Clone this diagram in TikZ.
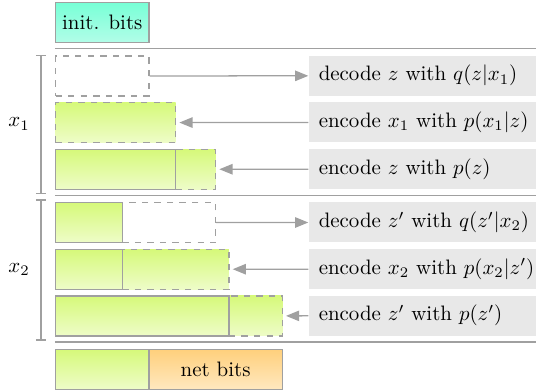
\documentclass[tikz,border=0pt]{standalone}
\usetikzlibrary{arrows.meta}
\definecolor{edgegray}{HTML}{A0A0A0}
\definecolor{labelgray}{HTML}{E8E8E8}
\definecolor{greentop}{HTML}{D6F97A}
\definecolor{greenbot}{HTML}{EEFCC8}
\definecolor{tealtop}{HTML}{78FFD6}
\definecolor{tealbot}{HTML}{B2FDE8}
\definecolor{orangetop}{HTML}{FFD07C}
\definecolor{orangebot}{HTML}{FFE8BF}
\tikzset{
  bits/.style={draw=edgegray, line width=0.6pt, rectangle, anchor=north west,
    inner sep=0pt, minimum height={3*2.24mm}, minimum width={#1*2.24mm}},
  green/.style={bits=#1, top color=greentop, bottom color=greenbot},
  greendash/.style={green=#1, dashed},
  empty/.style={bits=#1, dashed},
  initbox/.style={bits=#1, top color=tealtop, bottom color=tealbot},
  netbox/.style={bits=#1, top color=orangetop, bottom color=orangebot},
  stepname/.style={fill=labelgray, rectangle, anchor=north west, inner xsep=4.8pt,
    inner ysep=0pt, minimum height={3*2.24mm}, text width={20*2.24mm}, align=left},
  sep/.style={draw=edgegray, line width=0.6pt},
  flow/.style={->, draw=edgegray, line width=0.6pt},
}
\begin{document}
\begin{tikzpicture}[x=2.24mm, y=-2.24mm, >={Triangle[length=6.3pt,width=5pt]}]
  \useasboundingbox (-4.125,0) rectangle (36.08,29.4);
  % bits
  \node [initbox=7] (init) at (0,0.15) {init. bits};
  \node [empty=7] (d1) at (0,4.15) {};
  \node [greendash=9] (e1) at (0,7.65) {};
  \node [greendash=3] (e2) at (9,11.15) {};
  \node [green=9] (s2) at (0,11.15) {};
  \node [empty=7] (d3) at (5,15.15) {};
  \node [green=5] (s3) at (0,15.15) {};
  \node [greendash=8] (e4) at (5,18.65) {};
  \node [green=5] (s4) at (0,18.65) {};
  \node [greendash=4] (e5) at (13,22.15) {};
  \node [green=13] (s5) at (0,22.15) {};
  \node [green=7] (s6) at (0,26.15) {};
  \node [netbox=10] (net) at (7,26.15) {net bits};
  % steps
  \node [stepname] (t1) at (19,4.15) {decode $z$ with $q(z|x_1)$};
  \node [stepname] (t2) at (19,7.65) {encode $x_1$ with $p(x_1|z)$};
  \node [stepname] (t3) at (19,11.15) {encode $z$ with $p(z)$};
  \node [stepname] (t4) at (19,15.15) {decode $z'$ with $q(z'|x_2)$};
  \node [stepname] (t5) at (19,18.65) {encode $x_2$ with $p(x_2|z')$};
  \node [stepname] (t6) at (19,22.15) {encode $z'$ with $p(z')$};
  \draw [flow] (d1) -- (t1);
  \draw [flow, shorten >=1.5pt] (t2) -- (e1);
  \draw [flow, shorten >=1.5pt] (t3) -- (e2);
  \draw [flow] (d3) -- (t4);
  \draw [flow, shorten >=1.5pt] (t5) -- (e4);
  \draw [flow, shorten >=1.5pt] (t6) -- (e5);
  % separators
  \draw [sep] (0,3.65) -- (36.08,3.65);
  \draw [sep] (0,14.65) -- (36.08,14.65);
  \draw [sep] (0,25.65) -- (36.08,25.65);
  % samples
  \draw [sep] (-1.43,4.15) -- (-0.68,4.15) (-1.05,4.15) -- (-1.05,14.5)
    (-1.43,14.5) -- (-0.68,14.5);
  \draw [sep] (-1.43,15.0) -- (-0.68,15.0) (-1.05,15.0) -- (-1.05,25.5)
    (-1.43,25.5) -- (-0.68,25.5);
  \node (x1) at (-2.7,9.3) {$x_1$};
  \node (x2) at (-2.7,20.2) {$x_2$};
\end{tikzpicture}
\end{document}
